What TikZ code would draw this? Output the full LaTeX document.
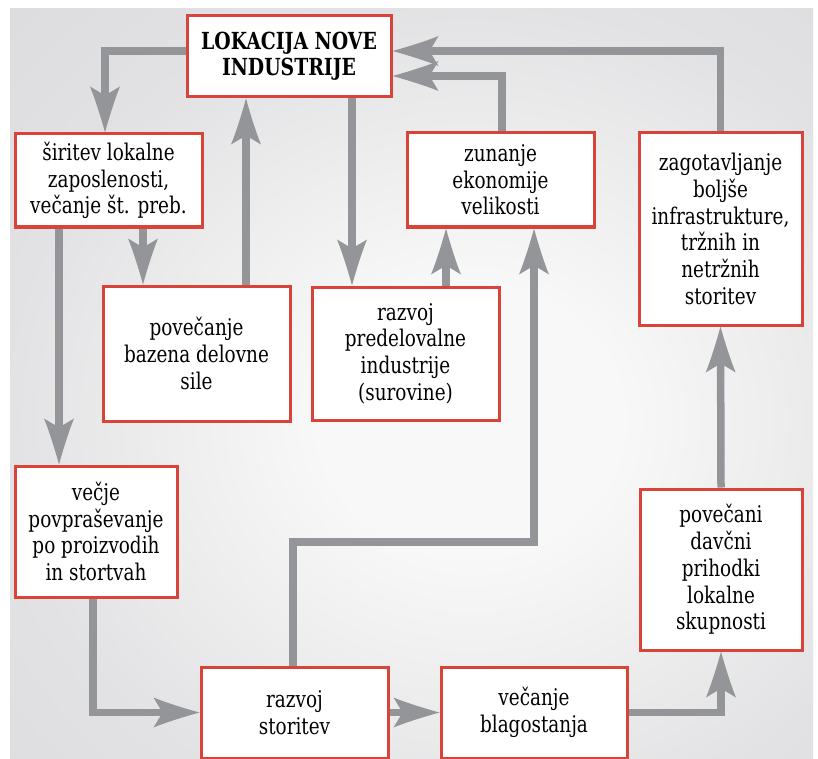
\documentclass[tikz,border=0pt]{standalone}
\usepackage{fontspec}
\setmainfont{DejaVu Serif Condensed}[FakeStretch=0.89]
\usetikzlibrary{arrows.meta}
\definecolor{boxred}{HTML}{D8443A}
\definecolor{arrgray}{HTML}{949599}
\definecolor{bgedge}{HTML}{DCDCDE}
\definecolor{bgnear}{HTML}{E2E2E4}
\definecolor{bgmid}{HTML}{F8F8F8}
\pgfdeclareradialshading{bgshade}{\pgfpoint{0bp}{0bp}}{color(0bp)=(bgmid); color(8bp)=(bgmid); color(25bp)=(bgnear); color(36bp)=(bgedge); color(50bp)=(bgedge)}
\pgfdeclarearrow{
  name = MyBarb,
  setup code = {
    \pgfarrowssettipend{0pt}
    \pgfarrowssetbackend{-46pt}
    \pgfarrowssetlineend{-34pt}
  },
  drawing code = {
    \pgfpathmoveto{\pgfqpoint{0pt}{0pt}}
    \pgfpathcurveto{\pgfqpoint{-14pt}{3.8pt}}{\pgfqpoint{-34pt}{10pt}}{\pgfqpoint{-46pt}{15pt}}
    \pgfpathlineto{\pgfqpoint{-37pt}{0pt}}
    \pgfpathlineto{\pgfqpoint{-46pt}{-15pt}}
    \pgfpathcurveto{\pgfqpoint{-34pt}{-10pt}}{\pgfqpoint{-14pt}{-3.8pt}}{\pgfqpoint{0pt}{0pt}}
    \pgfpathclose
    \pgfusepathqfill
  }
}
\begin{document}
\begin{tikzpicture}[x=1pt,y=-1pt,
  box/.style={draw=boxred, line width=3pt, fill=white, align=center, inner sep=1pt,
    font=\fontsize{23}{26.7}\selectfont},
  arr/.style={draw=arrgray, line width=7.5pt, line join=miter, -{MyBarb}}]
\useasboundingbox (0,0) rectangle (818,759);
\fill[white] (0,0) rectangle (818,759);
\begin{scope}
\clip (10,9) rectangle (813,759);
\shade[shading=bgshade] (0,0) rectangle (940,840);
\end{scope}

\node[box, minimum width=204pt, minimum height=81pt,
  font=\bfseries\fontsize{23.5}{26}\selectfont] (lok) at (289,56.5) {LOKACIJA NOVE\\INDUSTRIJE};
\node[box, minimum width=187pt, minimum height=93pt] (sir) at (108.5,180.5) {širitev lokalne\\zaposlenosti,\\večanje št. preb.};
\node[box, minimum width=187pt, minimum height=94pt] (zun) at (500.5,180) {zunanje\\ekonomije\\velikosti};
\node[box, minimum width=163pt, minimum height=192pt] (zag) at (720.5,229) {zagotavljanje\\boljše\\infrastrukture,\\tržnih in\\netržnih\\storitev};
\node[box, minimum width=187pt, minimum height=135pt] (pov) at (196.5,353.5) {povečanje\\bazena delovne\\sile};
\node[box, minimum width=187pt, minimum height=133pt] (raz) at (405.5,353.5) {razvoj\\predelovalne\\industrije\\(surovine)};
\node[box, minimum width=162pt, minimum height=131pt] (vec) at (96,531.5) {večje\\povpraševanje\\po proizvodih\\in stortvah};
\node[box, minimum width=162pt, minimum height=161pt] (povd) at (721,569.5) {povečani\\davčni\\prihodki\\lokalne\\skupnosti};
\node[box, minimum width=187pt, minimum height=91pt] (rst) at (294.5,712.5) {razvoj\\storitev};
\node[box, minimum width=186pt, minimum height=91pt] (blg) at (534,712.5) {večanje\\blagostanja};

\coordinate (xa) at (105,0);
\coordinate (xb) at (143,0);
\coordinate (xc) at (59,0);
\coordinate (xd) at (246,0);
\coordinate (xe) at (352,0);
\coordinate (xf) at (446,0);
\coordinate (xg) at (293,0);
\coordinate (xi) at (502,0);
\coordinate (xk) at (93,0);
\coordinate (ya) at (0,51);
\coordinate (yb) at (0,76);
\coordinate (p7) at (534,542);

\draw[arr] (lok.west |- ya) -| (sir.north -| xa);
\draw[arr] (sir.south -| xb) -- (pov.north -| xb);
\draw[arr] (sir.south -| xc) -- (vec.north -| xc);
\draw[arr] (pov.north -| xd) -- (lok.south -| xd);
\draw[arr] (lok.south -| xe) -- (raz.north -| xe);
\draw[arr] (raz.north -| xf) -- (zun.south -| xf);
\draw[arr] (rst.north -| xg) |- (p7) -- (zun.south -| p7);
\draw[arr] (zun.north -| xi) |- (lok.east |- yb);
\draw[arr] (zag.north) |- (lok.east |- ya);
\draw[arr] (vec.south -| xk) |- (rst.west);
\draw[arr] (rst.east) -- (blg.west);
\draw[arr] (blg.east) -| (povd.south);
\draw[arr] (povd.north) -- (zag.south);
\end{tikzpicture}
\end{document}
